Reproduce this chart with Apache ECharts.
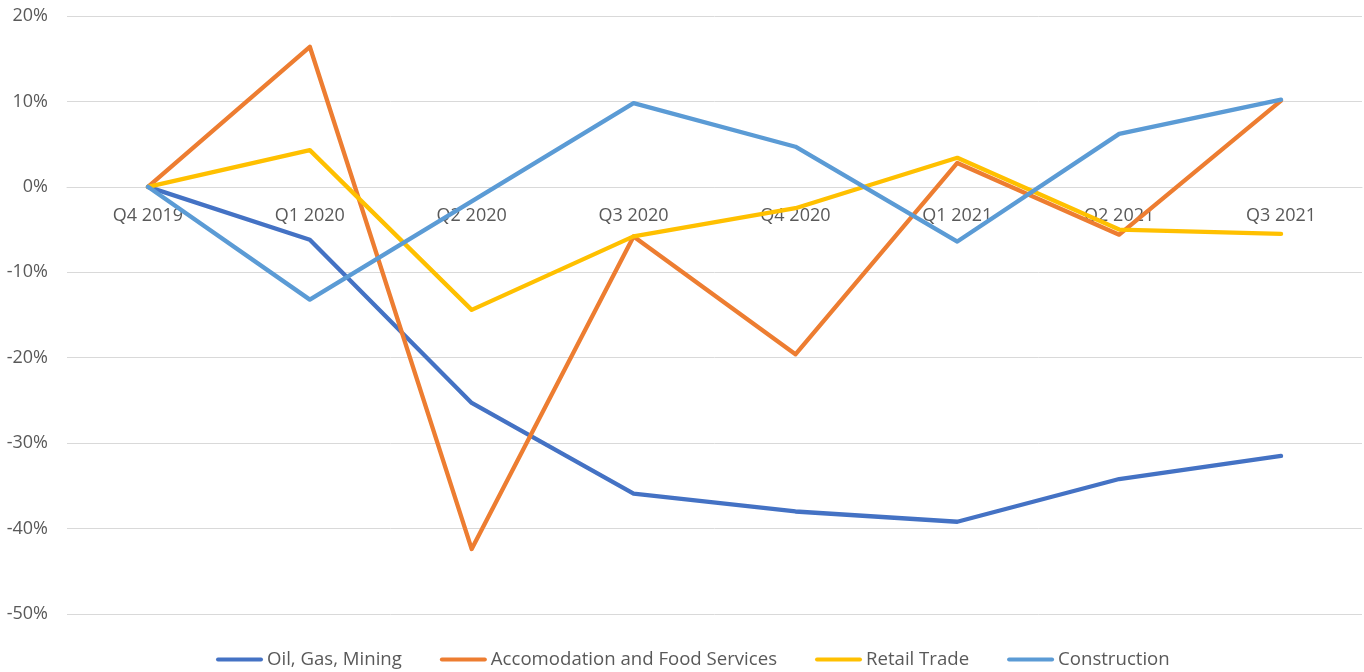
<!DOCTYPE html>
<html>
<head>
<meta charset="utf-8">
<script src="https://cdn.jsdelivr.net/npm/echarts@6/dist/echarts.min.js"></script>
<style>
  html, body { margin: 0; padding: 0; background: #fff; }
  #chart { width: 1364px; height: 672px; }
</style>
</head>
<body>
<div id="chart"></div>
<script>
// Quarterly change relative to Q4 2019, in percent
const quarters = ['Q4 2019', 'Q1 2020', 'Q2 2020', 'Q3 2020', 'Q4 2020', 'Q1 2021', 'Q2 2021', 'Q3 2021'];
const oilGasMining = [0, -6.2, -25.3, -35.9, -38.0, -39.2, -34.2, -31.5];
const accommodationFood = [0, 16.4, -42.4, -5.8, -19.6, 2.8, -5.6, 10.1];
const retailTrade = [0, 4.3, -14.4, -5.8, -2.5, 3.4, -5.0, -5.5];
const construction = [0, -13.2, -1.7, 9.8, 4.7, -6.4, 6.2, 10.2];
const yTicks = { min: -50, max: 20, step: 10 };

const seriesNames = ['Oil, Gas, Mining', 'Accomodation and Food Services', 'Retail Trade', 'Construction'];
const seriesData = [oilGasMining, accommodationFood, retailTrade, construction];
const colors = ['#4472C4', '#ED7D31', '#FFC000', '#5B9BD5'];

const font = '"Open Sans", "Liberation Sans", sans-serif';
const textColor = '#595959';

const W = 1364, H = 672;
const gridBox = { left: 67, right: 2, top: 16, bottom: 58 };
const plotHeight = H - gridBox.top - gridBox.bottom;
// the category axis sits on the 0% line, so shift it up from the bottom edge of the grid
const zeroShift = plotHeight * (0 - yTicks.min) / (yTicks.max - yTicks.min);

const chart = echarts.init(document.getElementById('chart'));
chart.setOption({
  animation: false,
  color: colors,
  grid: Object.assign({ containLabel: false }, gridBox),
  legend: {
    top: 645,
    left: 211,
    itemWidth: 47,
    itemHeight: 14,
    itemGap: 38,
    icon: 'path://M2,0 L45,0 A2,2 0 0 1 45,4 L2,4 A2,2 0 0 1 2,0 Z',
    textStyle: { fontFamily: font, fontSize: 18.6, color: textColor, padding: [0, 0, 0, -1] },
    data: seriesNames
  },
  xAxis: {
    type: 'category',
    data: quarters,
    boundaryGap: true,
    offset: -zeroShift,
    axisLine: { show: true, onZero: false, lineStyle: { color: '#d9d9d9', width: 1 } },
    axisTick: { show: false },
    axisLabel: { fontFamily: font, fontSize: 18, color: textColor, margin: 20 }
  },
  yAxis: {
    type: 'value',
    min: yTicks.min,
    max: yTicks.max,
    interval: yTicks.step,
    axisLine: { show: false },
    axisTick: { show: false },
    splitLine: { lineStyle: { color: '#d9d9d9', width: 1 } },
    axisLabel: {
      fontFamily: font, fontSize: 18, color: textColor, margin: 19,
      formatter: v => v + '%'
    }
  },
  series: seriesData.map((d, i) => ({
    name: seriesNames[i],
    type: 'line',
    data: d,
    showSymbol: false,
    symbol: 'none',
    z: 2 + i,
    lineStyle: { width: 4.3, color: colors[i], cap: 'round', join: 'round' },
    itemStyle: { color: colors[i] }
  }))
});
</script>
</body>
</html>
